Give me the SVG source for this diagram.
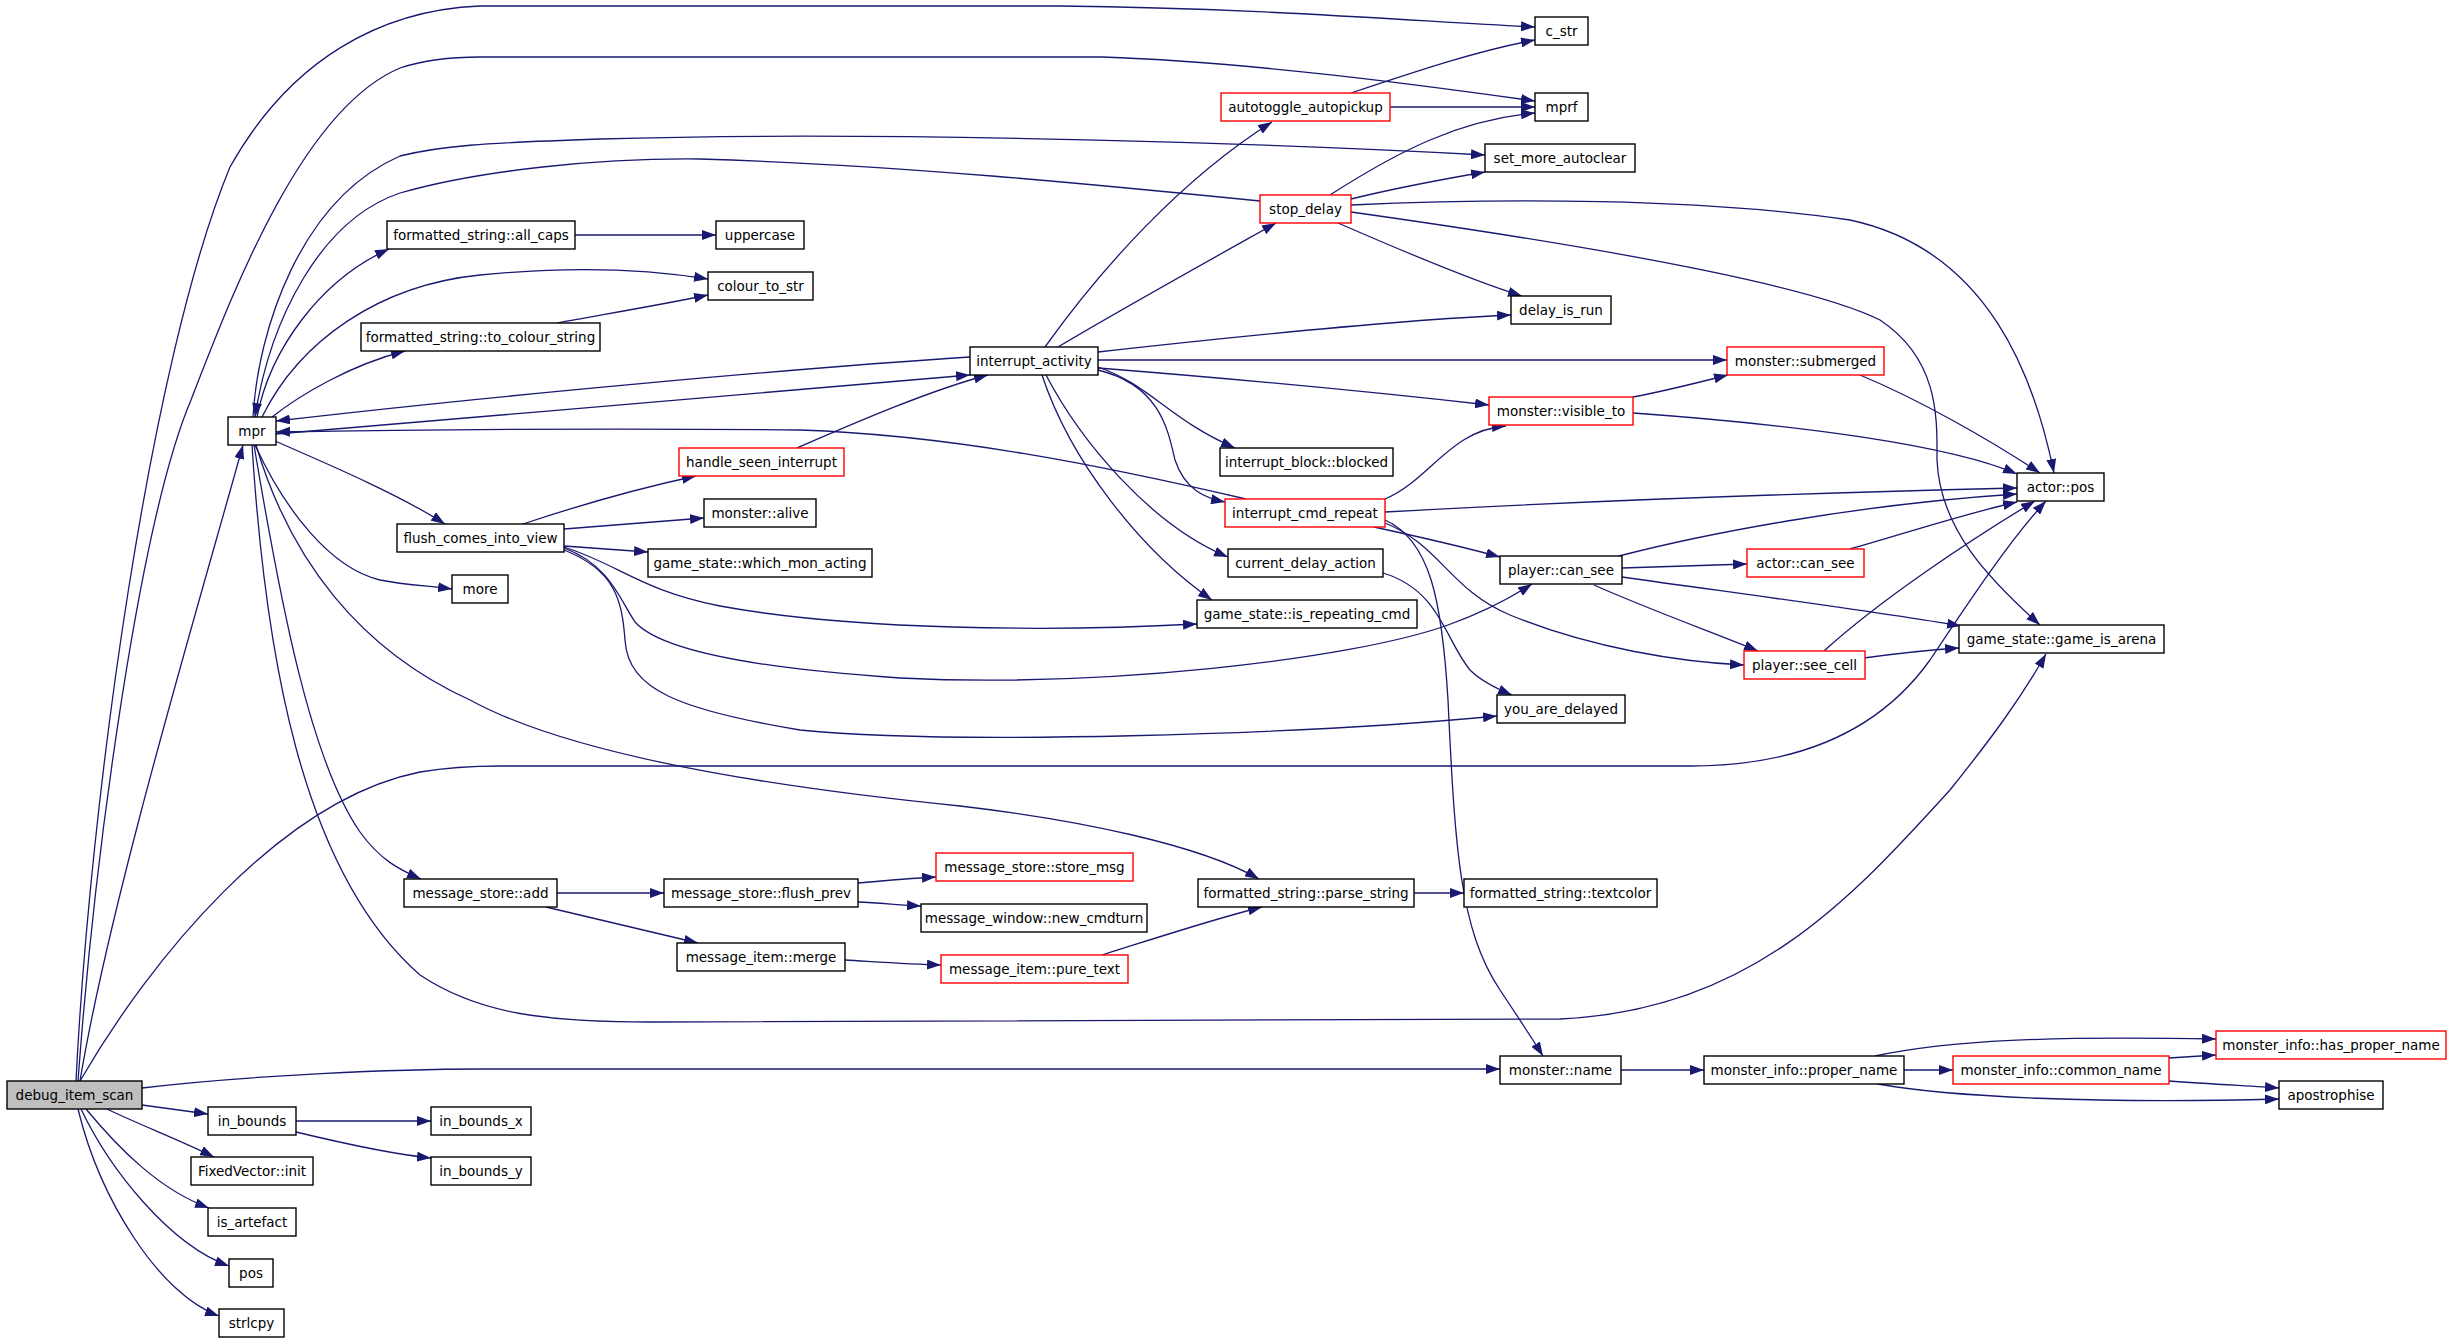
<svg xmlns="http://www.w3.org/2000/svg" width="2451" height="1341" viewBox="0 0 2451 1341">
<style>
.e{fill:none;stroke:#191970;stroke-width:1.3;marker-end:url(#ah)}
.n rect{fill:#fff;stroke:#000;stroke-width:1.4}
.n.r rect{stroke:#f00}
.n.g rect{fill:#bfbfbf}
text{font-family:"DejaVu Sans",sans-serif;font-size:13.5px;text-anchor:middle;fill:#000}
</style>
<defs>
<marker id="ah" viewBox="0 0 14 10" markerWidth="14" markerHeight="10" refX="14" refY="5" orient="auto" markerUnits="userSpaceOnUse"><path d="M0,0 L14,5 L0,10 z" fill="#191970"/></marker>
</defs>
<rect width="2451" height="1341" fill="#fff"/>
<g id="edges">
<path class="e" d="M76,1081 C90,800 150,360 230,167 C290,60 380,10 480,6 L1060,6 C1250,8 1400,20 1535,27"/>
<path class="e" d="M78,1081 C95,850 140,520 191,400 C230,300 300,110 400,68 C430,58 460,57 480,57 L1102,57 C1250,62 1420,85 1535,101"/>
<path class="e" d="M80,1081 C110,900 200,600 243,445"/>
<path class="e" d="M80,1081 C150,960 280,800 420,772 C450,767 470,766 500,766 L1690,766 C1800,766 1880,730 1930,660 C1970,600 2010,540 2046,501"/>
<path class="e" d="M142,1088 C250,1075 400,1069 480,1069 L1500,1069"/>
<path class="e" d="M142,1105 C165,1108 185,1111 208,1114"/>
<path class="e" d="M107,1109 C140,1125 180,1140 214,1157"/>
<path class="e" d="M86,1109 C120,1150 160,1190 209,1208"/>
<path class="e" d="M81,1109 C110,1170 170,1245 229,1266"/>
<path class="e" d="M78,1109 C100,1200 160,1295 219,1316"/>
<path class="e" d="M296,1121 L431,1121"/>
<path class="e" d="M296,1132 C350,1145 400,1155 431,1158"/>
<path class="e" d="M253,417 C258,330 300,200 400,156 C440,146 480,143 600,139 C900,130 1300,145 1485,155"/>
<path class="e" d="M1260,201 C1100,185 900,165 700,159 C600,158 480,170 400,193 C320,220 270,320 255,417"/>
<path class="e" d="M257,417 C270,350 320,280 389,249"/>
<path class="e" d="M262,417 C300,340 380,285 480,275 C560,267 640,268 708,279"/>
<path class="e" d="M272,417 C300,395 350,365 405,351"/>
<path class="e" d="M557,323 C600,315 660,305 708,295"/>
<path class="e" d="M575,235 L716,235"/>
<path class="e" d="M970,357 C800,368 500,395 276,421"/>
<path class="e" d="M276,434 C500,415 800,390 970,375"/>
<path class="e" d="M1246,499 C1100,465 950,435 800,430 C600,428 400,430 276,432"/>
<path class="e" d="M275,441 C330,465 400,495 445,524"/>
<path class="e" d="M255,445 C285,510 330,568 380,580 C405,585 430,586 452,589"/>
<path class="e" d="M254,445 C280,600 310,760 360,832 C380,860 400,870 421,879"/>
<path class="e" d="M252,445 C265,650 300,870 420,975 C480,1015 550,1022 650,1022 L1560,1019 C1750,1010 1850,900 1950,790 C1990,740 2020,700 2046,654"/>
<path class="e" d="M256,445 C290,560 360,650 470,700 C580,760 800,790 960,806 C1080,820 1200,845 1259,879"/>
<path class="e" d="M1045,347 C1100,270 1180,180 1272,122"/>
<path class="e" d="M1058,347 C1120,310 1210,260 1276,223"/>
<path class="e" d="M1098,352 C1250,335 1400,320 1511,315"/>
<path class="e" d="M1098,360 L1727,360"/>
<path class="e" d="M1098,368 C1250,380 1400,395 1489,405"/>
<path class="e" d="M1098,367 C1150,385 1170,420 1235,448"/>
<path class="e" d="M1098,370 C1160,385 1168,430 1175,460 C1185,490 1205,498 1225,502"/>
<path class="e" d="M1046,375 C1080,440 1150,525 1228,557"/>
<path class="e" d="M1042,375 C1070,460 1140,550 1212,600"/>
<path class="e" d="M797,448 C850,425 930,390 988,375"/>
<path class="e" d="M1330,195 C1400,150 1460,120 1535,113"/>
<path class="e" d="M1351,199 C1400,187 1450,178 1485,172"/>
<path class="e" d="M1338,223 C1400,250 1470,280 1522,296"/>
<path class="e" d="M1351,205 C1500,198 1700,198 1850,220 C1990,250 2035,380 2054,473"/>
<path class="e" d="M1351,212 C1550,240 1800,280 1880,320 C1940,360 1937,420 1937,460 C1940,530 1990,580 2040,625"/>
<path class="e" d="M1351,93 C1420,70 1480,50 1535,40"/>
<path class="e" d="M1390,107 L1535,107"/>
<path class="e" d="M1860,375 C1920,400 1990,440 2040,473"/>
<path class="e" d="M1633,397 C1670,390 1700,382 1728,375"/>
<path class="e" d="M1633,413 C1800,425 1950,445 2017,474"/>
<path class="e" d="M1385,499 C1430,480 1450,430 1506,426"/>
<path class="e" d="M1385,512 C1600,500 1850,492 2017,488"/>
<path class="e" d="M1374,527 C1420,537 1460,546 1500,557"/>
<path class="e" d="M1385,520 C1430,540 1442,600 1448,700 C1455,850 1460,930 1500,990 C1520,1020 1530,1035 1543,1056"/>
<path class="e" d="M1385,523 C1440,545 1450,590 1510,615 C1590,648 1680,662 1744,665"/>
<path class="e" d="M1383,573 C1440,590 1445,640 1470,670 C1480,680 1495,688 1512,695"/>
<path class="e" d="M1619,556 C1700,535 1850,505 2017,494"/>
<path class="e" d="M1622,568 L1747,564"/>
<path class="e" d="M1622,577 C1750,595 1880,612 1961,626"/>
<path class="e" d="M1594,585 C1650,610 1720,635 1758,651"/>
<path class="e" d="M1850,549 C1900,535 1960,515 2017,502"/>
<path class="e" d="M1824,651 C1880,600 1970,540 2035,501"/>
<path class="e" d="M1864,658 C1900,653 1930,650 1959,648"/>
<path class="e" d="M523,524 C580,505 640,488 696,476"/>
<path class="e" d="M564,529 L704,518"/>
<path class="e" d="M564,546 C590,548 620,550 648,552"/>
<path class="e" d="M564,547 C620,565 640,590 720,606 C850,630 1050,632 1197,624"/>
<path class="e" d="M564,548 C610,565 620,600 635,622 C660,650 750,668 900,678 C1100,688 1350,660 1448,625 C1490,610 1515,595 1532,584"/>
<path class="e" d="M564,550 C615,570 622,600 625,640 C628,690 680,710 800,730 C950,745 1300,735 1497,716"/>
<path class="e" d="M557,893 L664,893"/>
<path class="e" d="M546,907 C600,920 650,932 698,943"/>
<path class="e" d="M858,883 C890,880 915,878 936,877"/>
<path class="e" d="M858,902 C880,903 900,905 921,906"/>
<path class="e" d="M845,960 C880,962 910,964 941,965"/>
<path class="e" d="M1102,955 C1150,940 1210,920 1262,907"/>
<path class="e" d="M1414,893 L1464,893"/>
<path class="e" d="M1621,1070 L1704,1070"/>
<path class="e" d="M1904,1070 L1953,1070"/>
<path class="e" d="M1875,1056 C1950,1040 2050,1036 2216,1039"/>
<path class="e" d="M2169,1058 C2185,1057 2200,1056 2216,1055"/>
<path class="e" d="M2169,1081 C2210,1084 2250,1086 2279,1088"/>
<path class="e" d="M1878,1084 C1950,1097 2100,1104 2279,1099"/>
</g>
<g id="n_debug_item_scan" class="n g"><rect x="7" y="1081" width="135" height="28"/><text x="74.5" y="1099.5">debug_item_scan</text></g>
<g id="n_mpr" class="n"><rect x="228" y="417" width="48" height="28"/><text x="252" y="435.5">mpr</text></g>
<g id="n_c_str" class="n"><rect x="1535" y="17" width="53" height="28"/><text x="1561.5" y="35.5">c_str</text></g>
<g id="n_mprf" class="n"><rect x="1535" y="93" width="53" height="28"/><text x="1561.5" y="111.5">mprf</text></g>
<g id="n_autotoggle_autopickup" class="n r"><rect x="1221" y="93" width="169" height="28"/><text x="1305.5" y="111.5">autotoggle_autopickup</text></g>
<g id="n_set_more_autoclear" class="n"><rect x="1485" y="144" width="150" height="28"/><text x="1560" y="162.5">set_more_autoclear</text></g>
<g id="n_stop_delay" class="n r"><rect x="1260" y="195" width="91" height="28"/><text x="1305.5" y="213.5">stop_delay</text></g>
<g id="n_all_caps" class="n"><rect x="387" y="221" width="188" height="28"/><text x="481" y="239.5">formatted_string::all_caps</text></g>
<g id="n_uppercase" class="n"><rect x="716" y="221" width="88" height="28"/><text x="760" y="239.5">uppercase</text></g>
<g id="n_colour_to_str" class="n"><rect x="708" y="272" width="105" height="28"/><text x="760.5" y="290.5">colour_to_str</text></g>
<g id="n_to_colour_string" class="n"><rect x="361" y="323" width="239" height="28"/><text x="480.5" y="341.5">formatted_string::to_colour_string</text></g>
<g id="n_delay_is_run" class="n"><rect x="1511" y="296" width="100" height="28"/><text x="1561" y="314.5">delay_is_run</text></g>
<g id="n_interrupt_activity" class="n"><rect x="970" y="347" width="128" height="28"/><text x="1034" y="365.5">interrupt_activity</text></g>
<g id="n_submerged" class="n r"><rect x="1727" y="347" width="157" height="28"/><text x="1805.5" y="365.5">monster::submerged</text></g>
<g id="n_visible_to" class="n r"><rect x="1489" y="397" width="144" height="28"/><text x="1561" y="415.5">monster::visible_to</text></g>
<g id="n_handle_seen_interrupt" class="n r"><rect x="679" y="448" width="165" height="28"/><text x="761.5" y="466.5">handle_seen_interrupt</text></g>
<g id="n_blocked" class="n"><rect x="1220" y="448" width="173" height="28"/><text x="1306.5" y="466.5">interrupt_block::blocked</text></g>
<g id="n_actor_pos" class="n"><rect x="2017" y="473" width="87" height="28"/><text x="2060.5" y="491.5">actor::pos</text></g>
<g id="n_interrupt_cmd_repeat" class="n r"><rect x="1225" y="499" width="160" height="28"/><text x="1305" y="517.5">interrupt_cmd_repeat</text></g>
<g id="n_alive" class="n"><rect x="704" y="499" width="112" height="28"/><text x="760" y="517.5">monster::alive</text></g>
<g id="n_flush_comes_into_view" class="n"><rect x="397" y="524" width="167" height="28"/><text x="480.5" y="542.5">flush_comes_into_view</text></g>
<g id="n_current_delay_action" class="n"><rect x="1228" y="549" width="155" height="28"/><text x="1305.5" y="567.5">current_delay_action</text></g>
<g id="n_which_mon_acting" class="n"><rect x="648" y="549" width="224" height="28"/><text x="760" y="567.5">game_state::which_mon_acting</text></g>
<g id="n_actor_can_see" class="n r"><rect x="1747" y="549" width="117" height="28"/><text x="1805.5" y="567.5">actor::can_see</text></g>
<g id="n_player_can_see" class="n"><rect x="1500" y="556" width="122" height="28"/><text x="1561" y="574.5">player::can_see</text></g>
<g id="n_more" class="n"><rect x="452" y="575" width="56" height="28"/><text x="480" y="593.5">more</text></g>
<g id="n_is_repeating_cmd" class="n"><rect x="1197" y="600" width="220" height="28"/><text x="1307" y="618.5">game_state::is_repeating_cmd</text></g>
<g id="n_game_is_arena" class="n"><rect x="1959" y="625" width="205" height="28"/><text x="2061.5" y="643.5">game_state::game_is_arena</text></g>
<g id="n_see_cell" class="n r"><rect x="1744" y="651" width="121" height="28"/><text x="1804.5" y="669.5">player::see_cell</text></g>
<g id="n_you_are_delayed" class="n"><rect x="1497" y="695" width="128" height="28"/><text x="1561" y="713.5">you_are_delayed</text></g>
<g id="n_store_msg" class="n r"><rect x="936" y="853" width="197" height="28"/><text x="1034.5" y="871.5">message_store::store_msg</text></g>
<g id="n_store_add" class="n"><rect x="404" y="879" width="153" height="28"/><text x="480.5" y="897.5">message_store::add</text></g>
<g id="n_flush_prev" class="n"><rect x="664" y="879" width="194" height="28"/><text x="761" y="897.5">message_store::flush_prev</text></g>
<g id="n_parse_string" class="n"><rect x="1198" y="879" width="216" height="28"/><text x="1306" y="897.5">formatted_string::parse_string</text></g>
<g id="n_textcolor" class="n"><rect x="1464" y="879" width="193" height="28"/><text x="1560.5" y="897.5">formatted_string::textcolor</text></g>
<g id="n_new_cmdturn" class="n"><rect x="921" y="904" width="226" height="28"/><text x="1034" y="922.5">message_window::new_cmdturn</text></g>
<g id="n_merge" class="n"><rect x="677" y="943" width="168" height="28"/><text x="761" y="961.5">message_item::merge</text></g>
<g id="n_pure_text" class="n r"><rect x="941" y="955" width="187" height="28"/><text x="1034.5" y="973.5">message_item::pure_text</text></g>
<g id="n_monster_name" class="n"><rect x="1500" y="1056" width="121" height="28"/><text x="1560.5" y="1074.5">monster::name</text></g>
<g id="n_proper_name" class="n"><rect x="1704" y="1056" width="200" height="28"/><text x="1804" y="1074.5">monster_info::proper_name</text></g>
<g id="n_common_name" class="n r"><rect x="1953" y="1056" width="216" height="28"/><text x="2061" y="1074.5">monster_info::common_name</text></g>
<g id="n_has_proper_name" class="n r"><rect x="2216" y="1031" width="230" height="28"/><text x="2331" y="1049.5">monster_info::has_proper_name</text></g>
<g id="n_apostrophise" class="n"><rect x="2279" y="1081" width="104" height="28"/><text x="2331" y="1099.5">apostrophise</text></g>
<g id="n_in_bounds" class="n"><rect x="208" y="1107" width="88" height="28"/><text x="252" y="1125.5">in_bounds</text></g>
<g id="n_in_bounds_x" class="n"><rect x="431" y="1107" width="100" height="28"/><text x="481" y="1125.5">in_bounds_x</text></g>
<g id="n_fixedvector_init" class="n"><rect x="191" y="1157" width="122" height="28"/><text x="252" y="1175.5">FixedVector::init</text></g>
<g id="n_in_bounds_y" class="n"><rect x="431" y="1157" width="100" height="28"/><text x="481" y="1175.5">in_bounds_y</text></g>
<g id="n_is_artefact" class="n"><rect x="208" y="1208" width="88" height="28"/><text x="252" y="1226.5">is_artefact</text></g>
<g id="n_pos" class="n"><rect x="229" y="1259" width="44" height="28"/><text x="251" y="1277.5">pos</text></g>
<g id="n_strlcpy" class="n"><rect x="219" y="1309" width="65" height="28"/><text x="251.5" y="1327.5">strlcpy</text></g>
</svg>
